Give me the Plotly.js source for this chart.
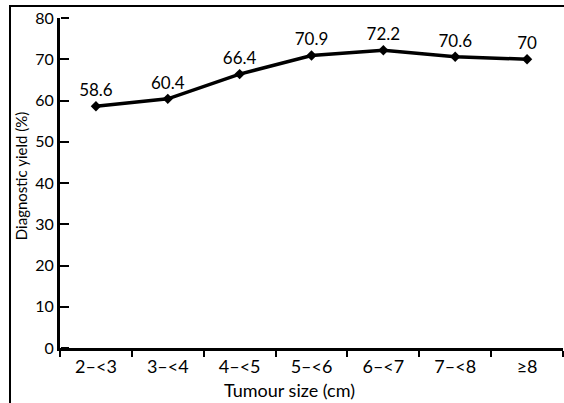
<!DOCTYPE html>
<html>
<head>
<meta charset="utf-8">
<script src="https://cdn.plot.ly/plotly-3.0.1.min.js"></script>
<style>html,body{margin:0;padding:0;background:#fff;}#chart{width:564px;height:403px;}</style>
</head>
<body>
<div id="chart"></div>
<script>
const categories = ["2–<3", "3–<4", "4–<5", "5–<6", "6–<7", "7–<8", "≥8"];
const yieldValues = [58.6, 60.4, 66.4, 70.9, 72.2, 70.6, 70];
const valueLabels = ["58.6", "60.4", "66.4", "70.9", "72.2", "70.6", "70"];
const yTicks = [0, 10, 20, 30, 40, 50, 60, 70, 80];
const xTitle = "Tumour size (cm)";
const yTitle = "Diagnostic yield (%)";

const FONT = "Lato, 'Open Sans', 'DejaVu Sans', sans-serif";

const trace = {
  type: "scatter",
  mode: "lines+markers+text",
  x: categories,
  y: yieldValues,
  text: valueLabels,
  textposition: "top center",
  textfont: {family: FONT, size: 17, color: "#000"},
  line: {color: "#000", width: 3.5},
  marker: {symbol: "diamond", size: 8, color: "#000"},
  cliponaxis: false,
  hoverinfo: "skip"
};

// invisible helper trace so that the tick-only right-facing axis is drawn
const tickHelper = {
  type: "scatter",
  mode: "markers",
  x: categories,
  y: yieldValues,
  yaxis: "y2",
  marker: {opacity: 0},
  hoverinfo: "skip"
};

const layout = {
  width: 564,
  height: 403,
  margin: {l: 60, r: 1, t: 18, b: 55},
  paper_bgcolor: "#fff",
  plot_bgcolor: "#fff",
  showlegend: false,
  font: {family: FONT, size: 15, color: "#000"},
  xaxis: {
    type: "category",
    range: [-0.5, 6.5],
    tickson: "boundaries",
    ticks: "outside",
    ticklen: 6,
    tickwidth: 2,
    tickcolor: "#000",
    showline: true,
    linecolor: "#000",
    linewidth: 3,
    showgrid: false,
    zeroline: false,
    tickfont: {family: FONT, size: 18, color: "#000"},
    fixedrange: true
  },
  yaxis: {
    range: [0, 80],
    tickvals: yTicks,
    ticktext: yTicks.map(String),
    ticks: "inside",
    ticklen: 8,
    tickwidth: 2,
    tickcolor: "#000",
    showline: true,
    linecolor: "#000",
    linewidth: 3,
    showgrid: false,
    zeroline: false,
    tickfont: {family: FONT, size: 16, color: "#000"},
    fixedrange: true
  },
  yaxis2: {
    overlaying: "y",
    anchor: "free",
    position: 0,
    side: "right",
    range: [0, 80],
    tickvals: yTicks,
    ticks: "outside",
    ticklen: 8,
    tickwidth: 2,
    tickcolor: "#000",
    showticklabels: false,
    showline: false,
    showgrid: false,
    zeroline: false,
    fixedrange: true
  },
  annotations: [
    {
      text: xTitle, xref: "paper", yref: "paper",
      x: 0.457, y: -0.127, xanchor: "center", yanchor: "middle",
      showarrow: false, font: {family: FONT, size: 18, color: "#000"}
    },
    {
      text: yTitle, xref: "paper", yref: "paper",
      x: -0.076, y: 0.52, xanchor: "center", yanchor: "middle", textangle: -90,
      showarrow: false, font: {family: FONT, size: 15, color: "#000"}
    }
  ],
  shapes: [{
    type: "rect",
    xref: "paper", yref: "paper",
    x0: -0.0994, x1: 1.2, y0: -0.4, y1: 1.0364,
    line: {color: "#000", width: 2},
    fillcolor: "rgba(0,0,0,0)",
    layer: "below"
  }]
};

Plotly.newPlot("chart", [trace, tickHelper], layout, {staticPlot: true, displayModeBar: false});
</script>
</body>
</html>
